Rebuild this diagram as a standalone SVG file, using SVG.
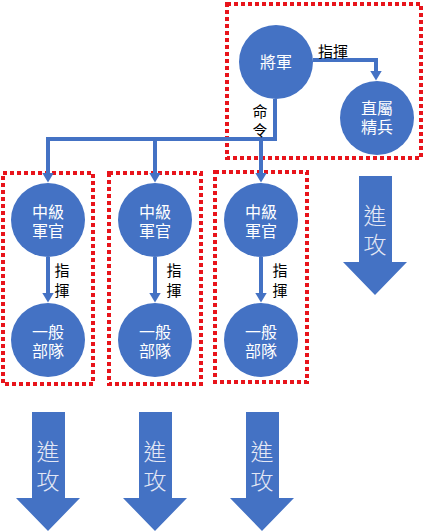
<svg xmlns="http://www.w3.org/2000/svg" width="425" height="532" viewBox="0 0 425 532">
<style>
.node{fill:#4472C4}
.nt{font-family:"Noto Sans CJK TC","Noto Sans CJK SC",sans-serif;font-size:16px;fill:#fff;text-anchor:middle}
.lbl{font-family:"Noto Sans CJK TC","Noto Sans CJK SC",sans-serif;font-size:15px;fill:#000;text-anchor:middle}
.at{font-family:"Noto Sans CJK TC","Noto Sans CJK SC",sans-serif;font-size:23px;fill:#e4e8f5;text-anchor:middle;font-weight:300}
.con{fill:none;stroke:#4472C4;stroke-width:4}
.grp{fill:none;stroke:#E8141B;stroke-width:4;stroke-dasharray:4 3}
.big{fill:#4472C4}
</style>
<defs>
<marker id="ah" viewBox="0 0 10 12" markerWidth="2.5" markerHeight="3" refX="0.5" refY="6" orient="auto" markerUnits="strokeWidth">
<path d="M0,0 L10,6 L0,12 z" fill="#4472C4"/>
</marker>
<path id="bigArrow" d="M-16,0 H17 V86 H32 L0,119 L-32,86 H-16 Z"/>
</defs>

<g id="groups">
<rect class="grp" x="227" y="4" width="194" height="154"/>
<rect class="grp" x="3" y="173" width="90" height="211"/>
<rect class="grp" x="109" y="173" width="92" height="211"/>
<rect class="grp" x="215" y="172" width="92" height="210"/>
</g>

<g id="connectors">
<path class="con" d="M313,60 H376 V71" marker-end="url(#ah)"/>
<path class="con" d="M275,99 V139 H48 V173" marker-end="url(#ah)"/>
<path class="con" d="M155,139 V173" marker-end="url(#ah)"/>
<path class="con" d="M261,139 V173" marker-end="url(#ah)"/>
<path class="con" d="M48,257 V293" marker-end="url(#ah)"/>
<path class="con" d="M155,257 V293" marker-end="url(#ah)"/>
<path class="con" d="M261,257 V293" marker-end="url(#ah)"/>
</g>

<g id="labels">
<text class="lbl" x="333" y="57">指揮</text>
<text class="lbl" x="260" y="117">命<tspan x="260" y="136">令</tspan></text>
<text class="lbl" x="62" y="276">指<tspan x="62" y="296">揮</tspan></text>
<text class="lbl" x="174" y="276">指<tspan x="174" y="296">揮</tspan></text>
<text class="lbl" x="280" y="276">指<tspan x="280" y="296">揮</tspan></text>
</g>

<g id="general">
<circle class="node" cx="276" cy="62" r="37"/>
<text class="nt" x="276" y="68">將軍</text>
</g>
<g id="elite">
<circle class="node" cx="377" cy="118" r="37"/>
<text class="nt" x="377" y="114">直屬<tspan x="377" y="133">精兵</tspan></text>
</g>
<g id="officer1">
<circle class="node" cx="48" cy="220" r="37"/>
<text class="nt" x="48" y="218">中級<tspan x="48" y="237">軍官</tspan></text>
</g>
<g id="officer2">
<circle class="node" cx="155" cy="220" r="37"/>
<text class="nt" x="155" y="218">中級<tspan x="155" y="237">軍官</tspan></text>
</g>
<g id="officer3">
<circle class="node" cx="261" cy="220" r="37"/>
<text class="nt" x="261" y="218">中級<tspan x="261" y="237">軍官</tspan></text>
</g>
<g id="troop1">
<circle class="node" cx="48" cy="340" r="37"/>
<text class="nt" x="48" y="338">一般<tspan x="48" y="357">部隊</tspan></text>
</g>
<g id="troop2">
<circle class="node" cx="155" cy="340" r="37"/>
<text class="nt" x="155" y="338">一般<tspan x="155" y="357">部隊</tspan></text>
</g>
<g id="troop3">
<circle class="node" cx="261" cy="340" r="37"/>
<text class="nt" x="261" y="338">一般<tspan x="261" y="357">部隊</tspan></text>
</g>

<g id="attack-elite">
<use href="#bigArrow" class="big" transform="translate(375,176)"/>
<text class="at" x="375" y="224">進<tspan x="375" y="253">攻</tspan></text>
</g>
<g id="attack1">
<use href="#bigArrow" class="big" transform="translate(48,412)"/>
<text class="at" x="48" y="460">進<tspan x="48" y="489">攻</tspan></text>
</g>
<g id="attack2">
<use href="#bigArrow" class="big" transform="translate(155,412)"/>
<text class="at" x="155" y="460">進<tspan x="155" y="489">攻</tspan></text>
</g>
<g id="attack3">
<use href="#bigArrow" class="big" transform="translate(262,412)"/>
<text class="at" x="262" y="460">進<tspan x="262" y="489">攻</tspan></text>
</g>
</svg>
